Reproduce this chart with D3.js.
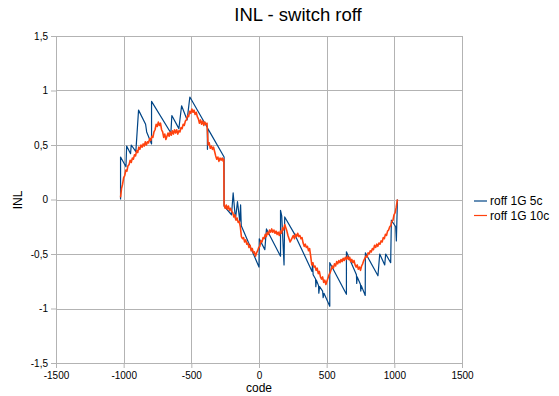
<!DOCTYPE html>
<html>
<head>
<meta charset="utf-8">
<script src="https://cdn.jsdelivr.net/npm/d3@7"></script>
<style>
  body { margin: 0; background: #fff; }
  svg text { font-family: "Liberation Sans", Arial, sans-serif; fill: #000; }
</style>
</head>
<body>
<div id="chart"></div>
<script>
// series names
const seriesNames = ["roff 1G 5c", "roff 1G 10c"];

// tick values
const xTicks = [-1500, -1000, -500, 0, 500, 1000, 1500];
const yTicks = [-1.5, -1, -0.5, 0, 0.5, 1, 1.5];

// roff 1G 5c : [code, INL]
const roff5c = [
    [-1023, 0.0], [-1023, 0.39], [-983, 0.30], [-978, 0.49], [-949, 0.42], [-944, 0.50],
    [-910, 0.44], [-890, 0.82], [-838, 0.69], [-830, 0.62], [-794, 0.51], [-794, 0.90],
    [-651, 0.61], [-644, 0.77], [-592, 0.65], [-572, 0.86], [-531, 0.73], [-511, 0.94],
    [-382, 0.66], [-381, 0.46], [-378, 0.65], [-258, 0.39], [-258, -0.06], [-203, -0.14],
    [-191, 0.06], [-174, -0.18], [-159, -0.02], [-142, -0.20], [-136, -0.05], [-131, -0.24],
    [0, -0.62], [2, -0.36], [43, -0.46], [55, -0.27], [159, -0.52], [159, -0.10],
    [168, -0.15], [185, -0.60], [190, -0.16], [264, -0.32], [392, -0.66], [396, -0.58],
    [400, -0.69], [418, -0.73], [420, -0.80], [424, -0.74], [440, -0.79], [442, -0.86],
    [448, -0.80], [470, -0.84], [474, -0.90], [480, -0.86], [523, -0.98], [523, -0.58],
    [646, -0.87], [646, -0.48], [720, -0.69], [722, -0.77], [726, -0.71], [750, -0.78],
    [752, -0.84], [756, -0.79], [785, -0.88], [786, -0.49], [879, -0.70], [892, -0.50],
    [929, -0.60], [936, -0.50], [973, -0.58], [978, -0.19], [1010, -0.25], [1015, -0.38],
    [1023, 0.0]
];

// roff 1G 10c : [code, INL]
const roff10c = [
    [-1023, 0.02], [-1016, 0.10], [-1008, 0.14], [-1000, 0.20], [-992, 0.22], [-984, 0.27],
    [-976, 0.26], [-968, 0.31], [-960, 0.32], [-952, 0.36], [-944, 0.34], [-936, 0.38],
    [-928, 0.37], [-920, 0.41], [-912, 0.40], [-904, 0.45], [-896, 0.43], [-888, 0.48],
    [-880, 0.46], [-872, 0.50], [-864, 0.48], [-856, 0.51], [-848, 0.49], [-840, 0.53],
    [-832, 0.50], [-824, 0.53], [-816, 0.52], [-808, 0.56], [-800, 0.54], [-792, 0.58],
    [-784, 0.57], [-776, 0.62], [-768, 0.64], [-760, 0.69], [-752, 0.67], [-744, 0.71],
    [-736, 0.68], [-728, 0.70], [-720, 0.64], [-712, 0.62], [-704, 0.57], [-696, 0.60],
    [-688, 0.55], [-680, 0.58], [-672, 0.61], [-664, 0.58], [-656, 0.62], [-648, 0.59],
    [-640, 0.63], [-632, 0.60], [-624, 0.64], [-616, 0.61], [-608, 0.64], [-600, 0.60],
    [-592, 0.63], [-584, 0.62], [-576, 0.66], [-568, 0.65], [-560, 0.69], [-552, 0.68],
    [-544, 0.72], [-536, 0.73], [-528, 0.77], [-520, 0.76], [-512, 0.81], [-504, 0.79],
    [-496, 0.83], [-488, 0.80], [-480, 0.82], [-472, 0.78], [-464, 0.80], [-456, 0.76],
    [-448, 0.74], [-440, 0.70], [-432, 0.73], [-424, 0.69], [-416, 0.72], [-408, 0.68],
    [-400, 0.71], [-392, 0.69], [-384, 0.70], [-376, 0.50], [-368, 0.52], [-360, 0.47],
    [-352, 0.49], [-344, 0.46], [-336, 0.48], [-328, 0.44], [-320, 0.40], [-312, 0.37],
    [-304, 0.39], [-296, 0.35], [-288, 0.38], [-280, 0.36], [-272, 0.38], [-264, 0.35],
    [-260, 0.37], [-258, -0.05], [-250, -0.08], [-242, -0.05], [-234, -0.09], [-226, -0.06],
    [-218, -0.10], [-210, -0.08], [-202, -0.11], [-194, -0.12], [-186, -0.16], [-178, -0.14],
    [-170, -0.19], [-162, -0.17], [-154, -0.21], [-146, -0.20], [-138, -0.25], [-130, -0.34],
    [-122, -0.36], [-114, -0.35], [-106, -0.39], [-98, -0.37], [-90, -0.41], [-82, -0.40],
    [-74, -0.44], [-66, -0.42], [-58, -0.47], [-50, -0.45], [-42, -0.49], [-34, -0.48],
    [-26, -0.52], [-18, -0.49], [-10, -0.47], [-2, -0.44], [6, -0.43], [14, -0.38],
    [22, -0.39], [30, -0.35], [38, -0.36], [46, -0.32], [54, -0.34], [62, -0.30],
    [70, -0.32], [78, -0.28], [86, -0.30], [94, -0.27], [102, -0.30], [110, -0.28],
    [118, -0.31], [126, -0.29], [134, -0.32], [142, -0.30], [150, -0.33], [158, -0.29],
    [166, -0.31], [174, -0.26], [182, -0.28], [190, -0.23], [198, -0.26], [206, -0.29],
    [214, -0.33], [222, -0.36], [230, -0.39], [238, -0.37], [246, -0.35], [254, -0.33],
    [262, -0.36], [270, -0.32], [278, -0.34], [286, -0.31], [294, -0.34], [302, -0.33],
    [310, -0.36], [318, -0.35], [326, -0.40], [334, -0.43], [342, -0.41], [350, -0.44],
    [358, -0.43], [366, -0.47], [374, -0.45], [382, -0.52], [390, -0.60], [398, -0.58],
    [406, -0.62], [414, -0.61], [422, -0.65], [430, -0.63], [438, -0.68], [446, -0.66],
    [454, -0.71], [462, -0.73], [470, -0.71], [478, -0.76], [486, -0.74], [494, -0.78],
    [502, -0.75], [510, -0.72], [518, -0.69], [526, -0.67], [534, -0.64], [542, -0.61],
    [550, -0.63], [558, -0.59], [566, -0.61], [574, -0.57], [582, -0.59], [590, -0.56],
    [598, -0.58], [606, -0.55], [614, -0.57], [622, -0.54], [630, -0.56], [638, -0.53],
    [646, -0.55], [654, -0.52], [662, -0.55], [670, -0.53], [678, -0.57], [686, -0.55],
    [694, -0.58], [702, -0.56], [710, -0.60], [718, -0.62], [726, -0.60], [734, -0.64],
    [742, -0.62], [750, -0.65], [758, -0.61], [766, -0.59], [774, -0.56], [782, -0.54],
    [790, -0.52], [798, -0.53], [806, -0.49], [814, -0.50], [822, -0.47], [830, -0.48],
    [838, -0.45], [846, -0.46], [854, -0.42], [862, -0.44], [870, -0.41], [878, -0.43],
    [886, -0.40], [894, -0.41], [902, -0.38], [910, -0.39], [918, -0.35], [926, -0.36],
    [934, -0.32], [942, -0.33], [950, -0.29], [958, -0.28], [966, -0.25], [974, -0.24],
    [982, -0.20], [990, -0.19], [998, -0.14], [1006, -0.12], [1014, -0.07], [1023, 0.0]
];

const colors = ["#004586", "#ff420e"];

const W = 559, H = 396;
const margin = {top: 36, right: 97, bottom: 33, left: 56};
const width = W - margin.left - margin.right;
const height = H - margin.top - margin.bottom;

const svg = d3.select("#chart").append("svg")
    .attr("width", W)
    .attr("height", H);

const g = svg.append("g")
    .attr("transform", `translate(${margin.left},${margin.top})`);

const x = d3.scaleLinear().domain([-1500, 1500]).range([0, width]);
const y = d3.scaleLinear().domain([-1.5, 1.5]).range([height, 0]);

const fmt = d => String(d).replace(".", ",");

// grid
g.append("g")
    .selectAll("line.vg")
    .data(xTicks)
    .enter().append("line")
    .attr("x1", d => Math.round(x(d)) + 0.5)
    .attr("x2", d => Math.round(x(d)) + 0.5)
    .attr("y1", 0)
    .attr("y2", height)
    .attr("stroke", "#b3b3b3");

g.append("g")
    .selectAll("line.hg")
    .data(yTicks)
    .enter().append("line")
    .attr("x1", 0)
    .attr("x2", width)
    .attr("y1", d => Math.round(y(d)) + 0.5)
    .attr("y2", d => Math.round(y(d)) + 0.5)
    .attr("stroke", "#b3b3b3");

// axes
const xAxis = g.append("g")
    .attr("transform", `translate(0,${height})`)
    .call(d3.axisBottom(x).tickValues(xTicks).tickFormat(fmt).tickSize(5).tickPadding(4));
const yAxis = g.append("g")
    .call(d3.axisLeft(y).tickValues(yTicks).tickFormat(fmt).tickSize(5).tickPadding(3));

[xAxis, yAxis].forEach(a => {
    a.select(".domain").attr("stroke", "#b3b3b3");
    a.selectAll(".tick line").attr("stroke", "#b3b3b3");
    a.selectAll(".tick text")
        .style("font-size", "10px")
        .style("font-family", "Liberation Sans, Arial, sans-serif")
        .attr("fill", "#000");
});

// lines
const line = d3.line()
    .x(d => x(d[0]))
    .y(d => y(d[1]));

[roff5c, roff10c].forEach((data, i) => {
    g.append("path")
        .datum(data)
        .attr("fill", "none")
        .attr("stroke", colors[i])
        .attr("stroke-width", i == 0 ? 1.2 : 1.6)
        .attr("stroke-linejoin", "round")
        .attr("d", line);
});

// title and axis labels
svg.append("text")
    .attr("x", 298)
    .attr("y", 21)
    .attr("text-anchor", "middle")
    .style("font-size", "18.5px")
    .text("INL - switch roff");

svg.append("text")
    .attr("x", margin.left + x(0))
    .attr("y", 392)
    .attr("text-anchor", "middle")
    .style("font-size", "12px")
    .text("code");

svg.append("text")
    .attr("transform", "translate(22,200) rotate(-90)")
    .attr("text-anchor", "middle")
    .style("font-size", "12px")
    .text("INL");

// legend
const legend = svg.append("g")
    .attr("transform", "translate(474,201)");

seriesNames.forEach((name, i) => {
    const row = legend.append("g").attr("transform", `translate(0,${i * 14.5})`);
    row.append("line")
        .attr("x1", 0).attr("x2", 13)
        .attr("y1", 0).attr("y2", 0)
        .attr("stroke", colors[i])
        .attr("stroke-width", 1.2);
    row.append("text")
        .attr("x", 16)
        .attr("y", 4)
        .style("font-size", "12px")
        .text(name);
});
</script>
</body>
</html>
